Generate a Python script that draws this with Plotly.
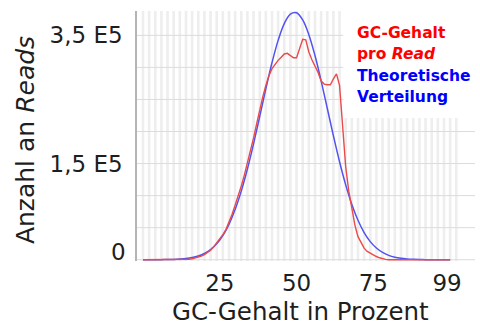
import plotly.graph_objects as go

# GC content (percent) on the x axis
gc_percent = list(range(0, 101))

# Measured read counts per GC percentage, in units of 1E5 reads
reads_measured = [
    0, 0, 0, 0, 0, 0, 0, 0, 0, 0,
    0, 0, 0, 0.002, 0.004, 0.008, 0.015, 0.025, 0.038, 0.055,
    0.078, 0.11, 0.15, 0.20, 0.26, 0.32, 0.39, 0.47, 0.58, 0.71,
    0.85, 0.99, 1.15, 1.32, 1.50, 1.70, 1.90, 2.12, 2.34, 2.54,
    2.72, 2.87, 2.98, 3.05, 3.11, 3.16, 3.21, 3.22, 3.19, 3.15,
    3.15, 3.30, 3.44, 3.43, 3.24, 3.12, 3.03, 2.92, 2.79, 2.74,
    2.73, 2.73, 2.82, 2.90, 2.72, 2.10, 1.45, 1.07, 0.77, 0.54,
    0.36, 0.26, 0.18, 0.13, 0.10, 0.075, 0.05, 0.03, 0.015, 0.005,
    0, 0, 0, 0, 0, 0, 0, 0, 0, 0,
    0, 0, 0, 0, 0, 0, 0, 0, 0, 0,
    0,
]

# Theoretical distribution, sampled every 2 percent, in units of 1E5 reads
gc_theory = list(range(0, 101, 2))
reads_theory = [
    0, 0, 0, 0.001, 0.003, 0.005, 0.010, 0.018, 0.033, 0.058,      # 0..18
    0.097, 0.158, 0.248, 0.377, 0.552, 0.782, 1.070, 1.415, 1.808, 2.233,  # 20..38
    2.664, 3.072, 3.422, 3.684, 3.832, 3.852, 3.741, 3.511, 3.185, 2.791,  # 40..58
    2.363, 1.933, 1.529, 1.168, 0.862, 0.615, 0.424, 0.282, 0.182, 0.113,  # 60..78
    0.068, 0.039, 0.022, 0.012, 0.006, 0.003, 0.001, 0, 0, 0,      # 80..98
    0,                                                             # 100
]

# Axis ticks
x_ticks = [25, 50, 75, 99]
y_ticks = [1.5, 3.5]
y_tick_text = ["1,5 E5", "3,5 E5"]

# Grid positions
stripe_positions = list(range(0, 103, 2))
hgrid_positions = [0, 0.5, 1.0, 1.5, 2.0, 2.5, 3.0, 3.5]

# Legend lines: (text, colour)
legend_lines = [
    ("<b>GC-Gehalt</b>", "#ff0000"),
    ("<b>pro <i>Read</i></b>", "#ff0000"),
    ("<b>Theoretische</b>", "#0000ff"),
    ("<b>Verteilung</b>", "#0000ff"),
]

fig = go.Figure()
fig.add_trace(go.Scatter(
    x=gc_theory, y=reads_theory, mode="lines", line_shape="spline",
    line=dict(color="#5252f0", width=1.5), hoverinfo="skip",
))
fig.add_trace(go.Scatter(
    x=gc_percent, y=reads_measured, mode="lines",
    line=dict(color="#ea4a4a", width=1.4), hoverinfo="skip",
))

shapes = [
    dict(type="line", xref="x", yref="paper", x0=p, x1=p, y0=0, y1=1,
         line=dict(color="#eeeeee", width=2.6), layer="below")
    for p in stripe_positions
]
shapes += [
    dict(type="line", xref="paper", yref="y", x0=0, x1=1, y0=h, y1=h,
         line=dict(color="#dcdcdc", width=1), layer="below")
    for h in hgrid_positions
]
# white panel behind the legend text
shapes.append(dict(type="rect", xref="x", yref="y", x0=65.2, x1=110, y0=2.21, y1=4.2,
                   fillcolor="white", line=dict(width=0), layer="between"))

axis_font = dict(family="DejaVu Sans", size=23, color="#1e1e1e")

annotations = [
    dict(text="GC-Gehalt in Prozent", xref="paper", yref="paper",
         x=0.485, y=-0.2, xanchor="center", yanchor="middle", showarrow=False,
         font=dict(family="DejaVu Sans", size=24.5, color="#1e1e1e")),
    dict(text="Anzahl an <i>Reads</i>", xref="paper", yref="paper",
         x=-0.331, y=0.484, xanchor="center", yanchor="middle", showarrow=False,
         textangle=-90,
         font=dict(family="DejaVu Sans", size=25, color="#1e1e1e")),
    # zero label sits slightly above its gridline
    dict(text="0", xref="paper", yref="y", x=0, y=0, xanchor="right", yanchor="middle",
         xshift=-9, yshift=8, showarrow=False, font=axis_font),
]
legend_y = [33, 54, 76, 97]
for (txt, col), py in zip(legend_lines, legend_y):
    annotations.append(dict(
        text=txt, xref="paper", yref="paper", x=0.645, y=(261 - py) / 250,
        xanchor="left", yanchor="middle", align="left", showarrow=False,
        font=dict(family="DejaVu Sans", size=15.5, color=col),
    ))

fig.update_layout(
    width=480, height=325,
    margin=dict(l=137, r=5, t=11, b=64),
    paper_bgcolor="white", plot_bgcolor="white",
    showlegend=False,
    shapes=shapes,
    xaxis=dict(
        range=[-1.95, 108.1], tickvals=x_ticks, ticktext=[str(t) for t in x_ticks],
        showgrid=False, zeroline=False, showline=False, ticks="",
        tickfont=axis_font, ticklabelstandoff=6,
    ),
    yaxis=dict(
        range=[-0.02, 3.88], tickvals=y_ticks, ticktext=y_tick_text,
        showgrid=False, zeroline=False, showline=True, linecolor="#b4b4b4", linewidth=1.5,
        ticks="", tickfont=axis_font, ticklabelstandoff=8,
    ),
    annotations=annotations,
)

fig.write_html("out.html")
